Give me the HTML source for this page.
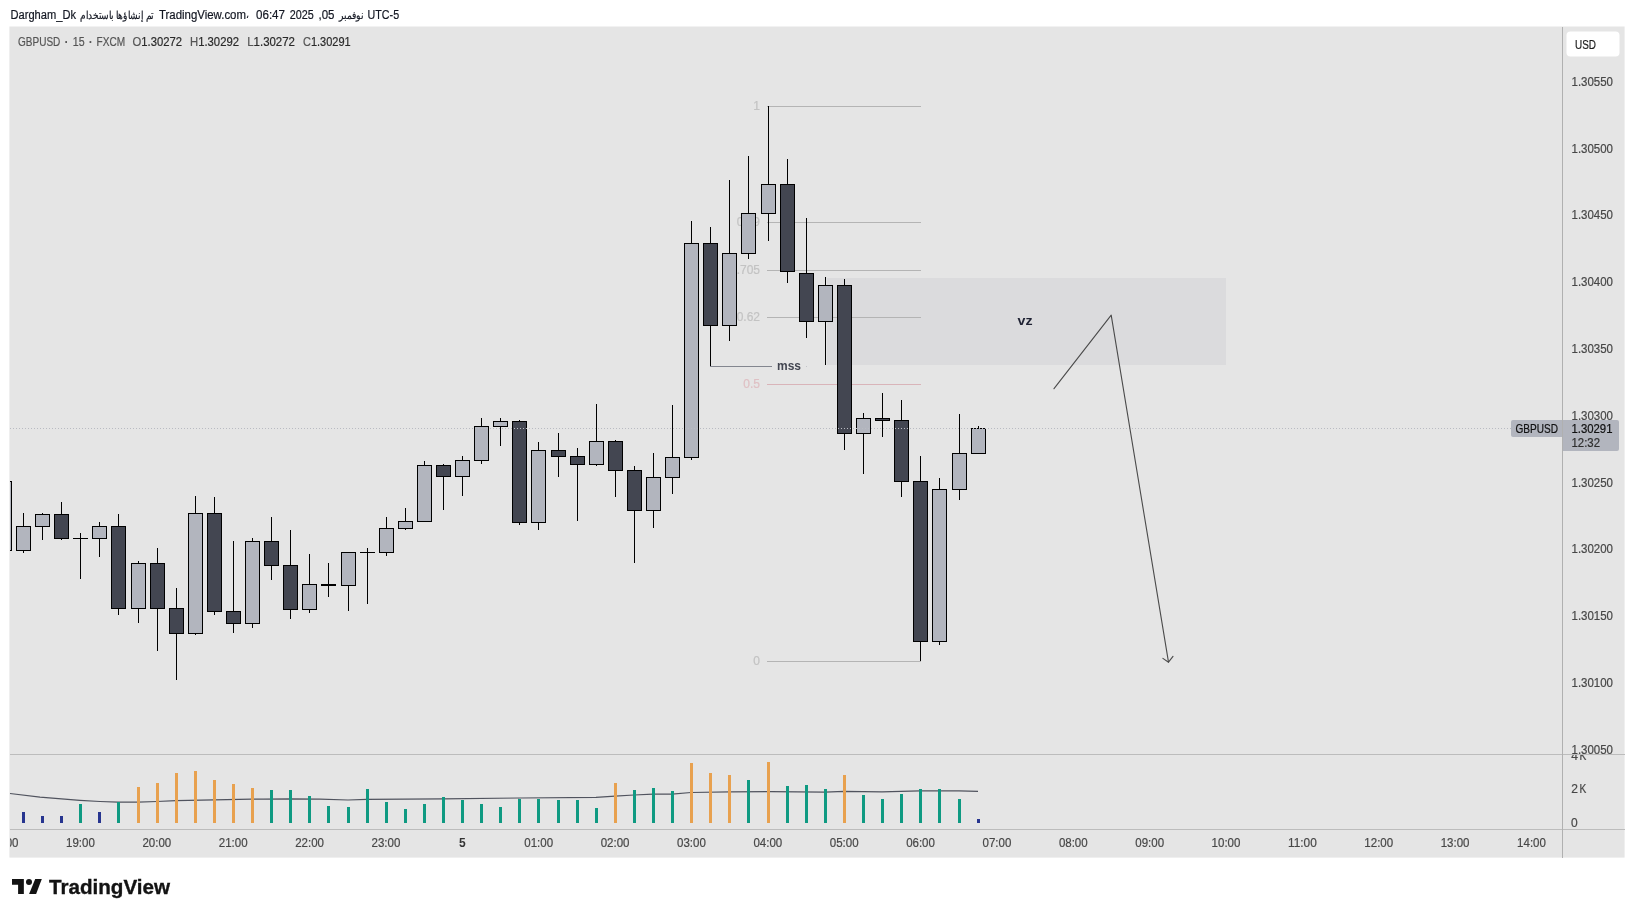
<!DOCTYPE html>
<html lang="en"><head><meta charset="utf-8"><title>GBPUSD chart</title>
<style>html,body{margin:0;padding:0;background:#fff;}body{width:1634px;height:917px;overflow:hidden;position:relative;font-family:"Liberation Sans",sans-serif;}svg{position:absolute;left:0;top:0;display:block;will-change:transform}svg text{font-family:"Liberation Sans",sans-serif;white-space:pre}</style>
</head><body>
<svg width="1634" height="917" viewBox="0 0 1634 917">
<defs><clipPath id="cp"><rect x="10" y="27" width="1552" height="727"/></clipPath><clipPath id="ct"><rect x="10" y="829" width="1552" height="28"/></clipPath><clipPath id="ca"><rect x="1563" y="27" width="61" height="727"/></clipPath><clipPath id="cv"><rect x="1563" y="755" width="61" height="74"/></clipPath></defs>
<g shape-rendering="crispEdges">
<rect x="9.4" y="26.5" width="1615.2" height="831.1" fill="#e5e5e5" shape-rendering="auto"/>
<rect x="827" y="278" width="399" height="87" fill="#dbdbdd" />
</g>
<g shape-rendering="crispEdges">
<rect x="767" y="106" width="154" height="1" fill="#b4b4b4" />
<rect x="767" y="222" width="154" height="1" fill="#b4b4b4" />
<rect x="767" y="270" width="154" height="1" fill="#b4b4b4" />
<rect x="767" y="317" width="154" height="1" fill="#b4b4b4" />
<rect x="767" y="384" width="154" height="1" fill="#d9b4b9" />
<rect x="767" y="661" width="154" height="1" fill="#b4b4b4" />
<rect x="710" y="366" width="62" height="1" fill="#83868f" />
<rect x="805.6" y="366" width="1.4" height="1" fill="#c4c5ca" />
</g>
<text x="760" y="109.7" font-size="12" fill="#c3c3c3" text-anchor="end" font-weight="normal" stroke="#c3c3c3" stroke-width="0.2" >1</text>
<text x="760" y="225.6" font-size="12" fill="#c3c3c3" text-anchor="end" font-weight="normal" stroke="#c3c3c3" stroke-width="0.2" >0.79</text>
<text x="760" y="273.6" font-size="12" fill="#c3c3c3" text-anchor="end" font-weight="normal" stroke="#c3c3c3" stroke-width="0.2" >0.705</text>
<text x="760" y="320.6" font-size="12" fill="#c3c3c3" text-anchor="end" font-weight="normal" stroke="#c3c3c3" stroke-width="0.2" >0.62</text>
<text x="760" y="387.6" font-size="12" fill="#dfc0c4" text-anchor="end" font-weight="normal" stroke="#dfc0c4" stroke-width="0.2" >0.5</text>
<text x="760" y="664.8" font-size="12" fill="#c3c3c3" text-anchor="end" font-weight="normal" stroke="#c3c3c3" stroke-width="0.2" >0</text>
<g clip-path="url(#cp)" shape-rendering="crispEdges">
<rect x="4" y="470" width="1" height="83" fill="#000000" />
<rect x="-3" y="481" width="15" height="70" fill="#000000" />
<rect x="-2" y="482" width="13" height="68" fill="#b2b5be" />
<rect x="23" y="513" width="1" height="40" fill="#000000" />
<rect x="16" y="526" width="15" height="25" fill="#000000" />
<rect x="17" y="527" width="13" height="23" fill="#b2b5be" />
<rect x="42" y="513" width="1" height="27" fill="#000000" />
<rect x="35" y="514" width="15" height="13" fill="#000000" />
<rect x="36" y="515" width="13" height="11" fill="#b2b5be" />
<rect x="61" y="502" width="1" height="38" fill="#000000" />
<rect x="54" y="514" width="15" height="25" fill="#000000" />
<rect x="55" y="515" width="13" height="23" fill="#434651" />
<rect x="80" y="533" width="1" height="46" fill="#000000" />
<rect x="73" y="538" width="15" height="1" fill="#000000" />
<rect x="99" y="522" width="1" height="35" fill="#000000" />
<rect x="92" y="526" width="15" height="13" fill="#000000" />
<rect x="93" y="527" width="13" height="11" fill="#b2b5be" />
<rect x="118" y="514" width="1" height="101" fill="#000000" />
<rect x="111" y="526" width="15" height="83" fill="#000000" />
<rect x="112" y="527" width="13" height="81" fill="#434651" />
<rect x="138" y="561" width="1" height="62" fill="#000000" />
<rect x="131" y="563" width="15" height="46" fill="#000000" />
<rect x="132" y="564" width="13" height="44" fill="#b2b5be" />
<rect x="157" y="548" width="1" height="103" fill="#000000" />
<rect x="150" y="563" width="15" height="46" fill="#000000" />
<rect x="151" y="564" width="13" height="44" fill="#434651" />
<rect x="176" y="588" width="1" height="92" fill="#000000" />
<rect x="169" y="608" width="15" height="26" fill="#000000" />
<rect x="170" y="609" width="13" height="24" fill="#434651" />
<rect x="195" y="496" width="1" height="139" fill="#000000" />
<rect x="188" y="513" width="15" height="121" fill="#000000" />
<rect x="189" y="514" width="13" height="119" fill="#b2b5be" />
<rect x="214" y="497" width="1" height="118" fill="#000000" />
<rect x="207" y="513" width="15" height="99" fill="#000000" />
<rect x="208" y="514" width="13" height="97" fill="#434651" />
<rect x="233" y="541" width="1" height="92" fill="#000000" />
<rect x="226" y="611" width="15" height="13" fill="#000000" />
<rect x="227" y="612" width="13" height="11" fill="#434651" />
<rect x="252" y="538" width="1" height="90" fill="#000000" />
<rect x="245" y="541" width="15" height="83" fill="#000000" />
<rect x="246" y="542" width="13" height="81" fill="#b2b5be" />
<rect x="271" y="517" width="1" height="63" fill="#000000" />
<rect x="264" y="541" width="15" height="25" fill="#000000" />
<rect x="265" y="542" width="13" height="23" fill="#434651" />
<rect x="290" y="530" width="1" height="89" fill="#000000" />
<rect x="283" y="565" width="15" height="45" fill="#000000" />
<rect x="284" y="566" width="13" height="43" fill="#434651" />
<rect x="309" y="554" width="1" height="59" fill="#000000" />
<rect x="302" y="584" width="15" height="26" fill="#000000" />
<rect x="303" y="585" width="13" height="24" fill="#b2b5be" />
<rect x="328" y="563" width="1" height="34" fill="#000000" />
<rect x="321" y="584" width="15" height="2" fill="#000000" />
<rect x="348" y="552" width="1" height="59" fill="#000000" />
<rect x="341" y="552" width="15" height="34" fill="#000000" />
<rect x="342" y="553" width="13" height="32" fill="#b2b5be" />
<rect x="367" y="548" width="1" height="56" fill="#000000" />
<rect x="360" y="552" width="15" height="1" fill="#000000" />
<rect x="386" y="517" width="1" height="39" fill="#000000" />
<rect x="379" y="528" width="15" height="25" fill="#000000" />
<rect x="380" y="529" width="13" height="23" fill="#b2b5be" />
<rect x="405" y="508" width="1" height="22" fill="#000000" />
<rect x="398" y="521" width="15" height="8" fill="#000000" />
<rect x="399" y="522" width="13" height="6" fill="#b2b5be" />
<rect x="424" y="461" width="1" height="61" fill="#000000" />
<rect x="417" y="465" width="15" height="57" fill="#000000" />
<rect x="418" y="466" width="13" height="55" fill="#b2b5be" />
<rect x="443" y="464" width="1" height="46" fill="#000000" />
<rect x="436" y="465" width="15" height="12" fill="#000000" />
<rect x="437" y="466" width="13" height="10" fill="#434651" />
<rect x="462" y="456" width="1" height="40" fill="#000000" />
<rect x="455" y="460" width="15" height="17" fill="#000000" />
<rect x="456" y="461" width="13" height="15" fill="#b2b5be" />
<rect x="481" y="418" width="1" height="46" fill="#000000" />
<rect x="474" y="426" width="15" height="35" fill="#000000" />
<rect x="475" y="427" width="13" height="33" fill="#b2b5be" />
<rect x="500" y="418" width="1" height="28" fill="#000000" />
<rect x="493" y="421" width="15" height="6" fill="#000000" />
<rect x="494" y="422" width="13" height="4" fill="#b2b5be" />
<rect x="519" y="420" width="1" height="105" fill="#000000" />
<rect x="512" y="421" width="15" height="102" fill="#000000" />
<rect x="513" y="422" width="13" height="100" fill="#434651" />
<rect x="538" y="442" width="1" height="88" fill="#000000" />
<rect x="531" y="450" width="15" height="73" fill="#000000" />
<rect x="532" y="451" width="13" height="71" fill="#b2b5be" />
<rect x="558" y="433" width="1" height="44" fill="#000000" />
<rect x="551" y="450" width="15" height="7" fill="#000000" />
<rect x="552" y="451" width="13" height="5" fill="#434651" />
<rect x="577" y="448" width="1" height="73" fill="#000000" />
<rect x="570" y="456" width="15" height="9" fill="#000000" />
<rect x="571" y="457" width="13" height="7" fill="#434651" />
<rect x="596" y="404" width="1" height="62" fill="#000000" />
<rect x="589" y="441" width="15" height="24" fill="#000000" />
<rect x="590" y="442" width="13" height="22" fill="#b2b5be" />
<rect x="615" y="440" width="1" height="57" fill="#000000" />
<rect x="608" y="441" width="15" height="30" fill="#000000" />
<rect x="609" y="442" width="13" height="28" fill="#434651" />
<rect x="634" y="466" width="1" height="97" fill="#000000" />
<rect x="627" y="470" width="15" height="41" fill="#000000" />
<rect x="628" y="471" width="13" height="39" fill="#434651" />
<rect x="653" y="453" width="1" height="75" fill="#000000" />
<rect x="646" y="477" width="15" height="34" fill="#000000" />
<rect x="647" y="478" width="13" height="32" fill="#b2b5be" />
<rect x="672" y="405" width="1" height="89" fill="#000000" />
<rect x="665" y="457" width="15" height="21" fill="#000000" />
<rect x="666" y="458" width="13" height="19" fill="#b2b5be" />
<rect x="691" y="221" width="1" height="239" fill="#000000" />
<rect x="684" y="243" width="15" height="215" fill="#000000" />
<rect x="685" y="244" width="13" height="213" fill="#b2b5be" />
<rect x="710" y="227" width="1" height="139" fill="#000000" />
<rect x="703" y="243" width="15" height="83" fill="#000000" />
<rect x="704" y="244" width="13" height="81" fill="#434651" />
<rect x="729" y="180" width="1" height="161" fill="#000000" />
<rect x="722" y="253" width="15" height="73" fill="#000000" />
<rect x="723" y="254" width="13" height="71" fill="#b2b5be" />
<rect x="748" y="156" width="1" height="103" fill="#000000" />
<rect x="741" y="213" width="15" height="41" fill="#000000" />
<rect x="742" y="214" width="13" height="39" fill="#b2b5be" />
<rect x="768" y="106" width="1" height="135" fill="#000000" />
<rect x="761" y="184" width="15" height="30" fill="#000000" />
<rect x="762" y="185" width="13" height="28" fill="#b2b5be" />
<rect x="787" y="159" width="1" height="124" fill="#000000" />
<rect x="780" y="184" width="15" height="88" fill="#000000" />
<rect x="781" y="185" width="13" height="86" fill="#434651" />
<rect x="806" y="218" width="1" height="120" fill="#000000" />
<rect x="799" y="273" width="15" height="49" fill="#000000" />
<rect x="800" y="274" width="13" height="47" fill="#434651" />
<rect x="825" y="277" width="1" height="88" fill="#000000" />
<rect x="818" y="285" width="15" height="37" fill="#000000" />
<rect x="819" y="286" width="13" height="35" fill="#b2b5be" />
<rect x="844" y="279" width="1" height="171" fill="#000000" />
<rect x="837" y="285" width="15" height="149" fill="#000000" />
<rect x="838" y="286" width="13" height="147" fill="#434651" />
<rect x="863" y="413" width="1" height="61" fill="#000000" />
<rect x="856" y="418" width="15" height="16" fill="#000000" />
<rect x="857" y="419" width="13" height="14" fill="#b2b5be" />
<rect x="882" y="393" width="1" height="44" fill="#000000" />
<rect x="875" y="418" width="15" height="3" fill="#000000" />
<rect x="876" y="419" width="13" height="1" fill="#434651" />
<rect x="901" y="400" width="1" height="97" fill="#000000" />
<rect x="894" y="420" width="15" height="62" fill="#000000" />
<rect x="895" y="421" width="13" height="60" fill="#434651" />
<rect x="920" y="456" width="1" height="205" fill="#000000" />
<rect x="913" y="481" width="15" height="161" fill="#000000" />
<rect x="914" y="482" width="13" height="159" fill="#434651" />
<rect x="939" y="478" width="1" height="167" fill="#000000" />
<rect x="932" y="489" width="15" height="153" fill="#000000" />
<rect x="933" y="490" width="13" height="151" fill="#b2b5be" />
<rect x="959" y="414" width="1" height="86" fill="#000000" />
<rect x="952" y="453" width="15" height="37" fill="#000000" />
<rect x="953" y="454" width="13" height="35" fill="#b2b5be" />
<rect x="978" y="426" width="1" height="28" fill="#000000" />
<rect x="971" y="428" width="15" height="26" fill="#000000" />
<rect x="972" y="429" width="13" height="24" fill="#b2b5be" />
</g>
<g shape-rendering="crispEdges">
<line x1="10" y1="428.5" x2="1512" y2="428.5" stroke="#b9bbc2" stroke-width="1" stroke-dasharray="1 2"/>
</g>
<text x="789" y="369.7" font-size="12" fill="#434651" text-anchor="middle" font-weight="bold" textLength="24" lengthAdjust="spacingAndGlyphs" >mss</text>
<text x="1025" y="325" font-size="13" fill="#1f2233" text-anchor="middle" font-weight="bold" textLength="15" lengthAdjust="spacingAndGlyphs" >vz</text>
<g fill="none" stroke="#4a4a4a" stroke-width="1.1" stroke-linecap="round" stroke-linejoin="round">
<path d="M1054 388.7 L1111.2 315.2 L1168.5 662.2"/>
<path d="M1162.9 658.4 L1168.5 662.2 L1173 656.4"/>
</g>
<g shape-rendering="crispEdges">
<rect x="10" y="754" width="1615" height="1" fill="#bcbcbc" />
<rect x="10" y="829" width="1615" height="1" fill="#bcbcbc" />
<rect x="1562" y="27" width="1" height="831" fill="#b0b0b0" />
</g>
<polyline points="10,793.5 40,797.1 80,800.3 100,801.5 118,802.2 138,802.2 157,801.5 176,800.7 214,799.8 252,799.2 290,798.8 320,799.2 348,800.0 367,799.3 443,798.9 520,798 596,797.4 615,796.2 634,795 653,794.1 672,794.1 691,792.5 730,791.9 768,791.6 825,792.1 844,791.4 882,791.9 920,790.8 959,790.8 978,791.4" fill="none" stroke="#50535e" stroke-width="1.2" stroke-linejoin="round"/>
<g shape-rendering="crispEdges">
<rect x="22" y="812" width="3" height="11" fill="#27358f" />
<rect x="41" y="816" width="3" height="7" fill="#27358f" />
<rect x="60" y="816" width="3" height="7" fill="#27358f" />
<rect x="79" y="804" width="3" height="19" fill="#0f9a82" />
<rect x="98" y="812" width="3" height="11" fill="#27358f" />
<rect x="117" y="802" width="3" height="21" fill="#0f9a82" />
<rect x="137" y="787" width="3" height="36" fill="#e8a14f" />
<rect x="156" y="783" width="3" height="40" fill="#e8a14f" />
<rect x="175" y="773" width="3" height="50" fill="#e8a14f" />
<rect x="194" y="771" width="3" height="52" fill="#e8a14f" />
<rect x="213" y="780" width="3" height="43" fill="#e8a14f" />
<rect x="232" y="784" width="3" height="39" fill="#e8a14f" />
<rect x="251" y="788" width="3" height="35" fill="#e8a14f" />
<rect x="270" y="790" width="3" height="33" fill="#0f9a82" />
<rect x="289" y="790" width="3" height="33" fill="#0f9a82" />
<rect x="308" y="796" width="3" height="27" fill="#0f9a82" />
<rect x="327" y="806" width="3" height="17" fill="#0f9a82" />
<rect x="347" y="807" width="3" height="16" fill="#0f9a82" />
<rect x="366" y="789" width="3" height="34" fill="#0f9a82" />
<rect x="385" y="802" width="3" height="21" fill="#0f9a82" />
<rect x="404" y="809" width="3" height="14" fill="#0f9a82" />
<rect x="423" y="804" width="3" height="19" fill="#0f9a82" />
<rect x="442" y="797" width="3" height="26" fill="#0f9a82" />
<rect x="461" y="800" width="3" height="23" fill="#0f9a82" />
<rect x="480" y="804" width="3" height="19" fill="#0f9a82" />
<rect x="499" y="807" width="3" height="16" fill="#0f9a82" />
<rect x="518" y="799" width="3" height="24" fill="#0f9a82" />
<rect x="537" y="799" width="3" height="24" fill="#0f9a82" />
<rect x="557" y="800" width="3" height="23" fill="#0f9a82" />
<rect x="576" y="800" width="3" height="23" fill="#0f9a82" />
<rect x="595" y="808" width="3" height="15" fill="#0f9a82" />
<rect x="614" y="783" width="3" height="40" fill="#e8a14f" />
<rect x="633" y="790" width="3" height="33" fill="#0f9a82" />
<rect x="652" y="788" width="3" height="35" fill="#0f9a82" />
<rect x="671" y="791" width="3" height="32" fill="#0f9a82" />
<rect x="690" y="763" width="3" height="60" fill="#e8a14f" />
<rect x="709" y="773" width="3" height="50" fill="#e8a14f" />
<rect x="728" y="775" width="3" height="48" fill="#e8a14f" />
<rect x="747" y="780" width="3" height="43" fill="#0f9a82" />
<rect x="767" y="762" width="3" height="61" fill="#e8a14f" />
<rect x="786" y="786" width="3" height="37" fill="#0f9a82" />
<rect x="805" y="785" width="3" height="38" fill="#0f9a82" />
<rect x="824" y="789" width="3" height="34" fill="#0f9a82" />
<rect x="843" y="775" width="3" height="48" fill="#e8a14f" />
<rect x="862" y="795" width="3" height="28" fill="#0f9a82" />
<rect x="881" y="799" width="3" height="24" fill="#0f9a82" />
<rect x="900" y="794" width="3" height="29" fill="#0f9a82" />
<rect x="919" y="789" width="3" height="34" fill="#0f9a82" />
<rect x="938" y="789" width="3" height="34" fill="#0f9a82" />
<rect x="958" y="799" width="3" height="24" fill="#0f9a82" />
<rect x="977" y="819" width="3" height="4" fill="#27358f" />
</g>
<g clip-path="url(#ca)">
<text x="1571.5" y="85.8" font-size="12" fill="#474747" text-anchor="start" font-weight="normal" textLength="41.5" lengthAdjust="spacingAndGlyphs" stroke="#474747" stroke-width="0.2" >1.30550</text>
<text x="1571.5" y="152.60000000000002" font-size="12" fill="#474747" text-anchor="start" font-weight="normal" textLength="41.5" lengthAdjust="spacingAndGlyphs" stroke="#474747" stroke-width="0.2" >1.30500</text>
<text x="1571.5" y="219.4" font-size="12" fill="#474747" text-anchor="start" font-weight="normal" textLength="41.5" lengthAdjust="spacingAndGlyphs" stroke="#474747" stroke-width="0.2" >1.30450</text>
<text x="1571.5" y="286.2" font-size="12" fill="#474747" text-anchor="start" font-weight="normal" textLength="41.5" lengthAdjust="spacingAndGlyphs" stroke="#474747" stroke-width="0.2" >1.30400</text>
<text x="1571.5" y="353.0" font-size="12" fill="#474747" text-anchor="start" font-weight="normal" textLength="41.5" lengthAdjust="spacingAndGlyphs" stroke="#474747" stroke-width="0.2" >1.30350</text>
<text x="1571.5" y="419.8" font-size="12" fill="#474747" text-anchor="start" font-weight="normal" textLength="41.5" lengthAdjust="spacingAndGlyphs" stroke="#474747" stroke-width="0.2" >1.30300</text>
<text x="1571.5" y="486.59999999999997" font-size="12" fill="#474747" text-anchor="start" font-weight="normal" textLength="41.5" lengthAdjust="spacingAndGlyphs" stroke="#474747" stroke-width="0.2" >1.30250</text>
<text x="1571.5" y="553.3999999999999" font-size="12" fill="#474747" text-anchor="start" font-weight="normal" textLength="41.5" lengthAdjust="spacingAndGlyphs" stroke="#474747" stroke-width="0.2" >1.30200</text>
<text x="1571.5" y="620.1999999999999" font-size="12" fill="#474747" text-anchor="start" font-weight="normal" textLength="41.5" lengthAdjust="spacingAndGlyphs" stroke="#474747" stroke-width="0.2" >1.30150</text>
<text x="1571.5" y="686.9999999999999" font-size="12" fill="#474747" text-anchor="start" font-weight="normal" textLength="41.5" lengthAdjust="spacingAndGlyphs" stroke="#474747" stroke-width="0.2" >1.30100</text>
<text x="1571.5" y="753.8" font-size="12" fill="#474747" text-anchor="start" font-weight="normal" textLength="41.5" lengthAdjust="spacingAndGlyphs" stroke="#474747" stroke-width="0.2" >1.30050</text>
</g>
<g clip-path="url(#cv)">
<text x="1571.3" y="760.3" font-size="12" fill="#474747" text-anchor="start" font-weight="normal" stroke="#474747" stroke-width="0.2" >4</text>
<text x="1579.6" y="760.3" font-size="12" fill="#474747" text-anchor="start" font-weight="normal" textLength="6.8" lengthAdjust="spacingAndGlyphs" stroke="#474747" stroke-width="0.2" >K</text>
<text x="1571.3" y="792.9" font-size="12" fill="#474747" text-anchor="start" font-weight="normal" stroke="#474747" stroke-width="0.2" >2</text>
<text x="1579.6" y="792.9" font-size="12" fill="#474747" text-anchor="start" font-weight="normal" textLength="6.8" lengthAdjust="spacingAndGlyphs" stroke="#474747" stroke-width="0.2" >K</text>
<text x="1571" y="827" font-size="12" fill="#474747" text-anchor="start" font-weight="normal" stroke="#474747" stroke-width="0.2" >0</text>
</g>
<rect x="1566.5" y="31.5" width="53" height="25" rx="4" ry="4" fill="#ffffff"/>
<text x="1575" y="48.8" font-size="12" fill="#1c1c1c" text-anchor="start" font-weight="normal" textLength="21" lengthAdjust="spacingAndGlyphs" stroke="#1c1c1c" stroke-width="0.2" >USD</text>
<path d="M1513 420 H1562 V437 H1513 a2 2 0 0 1 -2 -2 V422 a2 2 0 0 1 2 -2 z" fill="#b2b5be"/>
<path d="M1563 420 H1617 a2 2 0 0 1 2 2 V449 a2 2 0 0 1 -2 2 H1563 z" fill="#b2b5be"/>
<text x="1515.5" y="432.9" font-size="12" fill="#101010" text-anchor="start" font-weight="normal" textLength="42.5" lengthAdjust="spacingAndGlyphs" stroke="#101010" stroke-width="0.2" >GBPUSD</text>
<text x="1571.5" y="432.9" font-size="12" fill="#101010" text-anchor="start" font-weight="normal" textLength="41" lengthAdjust="spacingAndGlyphs" stroke="#101010" stroke-width="0.2" >1.30291</text>
<text x="1571.5" y="446.7" font-size="12" fill="#2e2e2e" text-anchor="start" font-weight="normal" textLength="28.5" lengthAdjust="spacingAndGlyphs" stroke="#2e2e2e" stroke-width="0.2" >12:32</text>
<g clip-path="url(#ct)">
<text x="-10.3" y="846.8" font-size="12" fill="#474747" text-anchor="start" font-weight="normal" textLength="28.8" lengthAdjust="spacingAndGlyphs" stroke="#474747" stroke-width="0.2" >18:00</text>
<text x="66.07" y="846.8" font-size="12" fill="#474747" text-anchor="start" font-weight="normal" textLength="28.8" lengthAdjust="spacingAndGlyphs" stroke="#474747" stroke-width="0.2" >19:00</text>
<text x="142.44" y="846.8" font-size="12" fill="#474747" text-anchor="start" font-weight="normal" textLength="28.8" lengthAdjust="spacingAndGlyphs" stroke="#474747" stroke-width="0.2" >20:00</text>
<text x="218.81" y="846.8" font-size="12" fill="#474747" text-anchor="start" font-weight="normal" textLength="28.8" lengthAdjust="spacingAndGlyphs" stroke="#474747" stroke-width="0.2" >21:00</text>
<text x="295.18000000000006" y="846.8" font-size="12" fill="#474747" text-anchor="start" font-weight="normal" textLength="28.8" lengthAdjust="spacingAndGlyphs" stroke="#474747" stroke-width="0.2" >22:00</text>
<text x="371.55000000000007" y="846.8" font-size="12" fill="#474747" text-anchor="start" font-weight="normal" textLength="28.8" lengthAdjust="spacingAndGlyphs" stroke="#474747" stroke-width="0.2" >23:00</text>
<text x="462.32000000000005" y="846.8" font-size="12" fill="#333333" text-anchor="middle" font-weight="bold" >5</text>
<text x="524.2900000000001" y="846.8" font-size="12" fill="#474747" text-anchor="start" font-weight="normal" textLength="28.8" lengthAdjust="spacingAndGlyphs" stroke="#474747" stroke-width="0.2" >01:00</text>
<text x="600.6600000000001" y="846.8" font-size="12" fill="#474747" text-anchor="start" font-weight="normal" textLength="28.8" lengthAdjust="spacingAndGlyphs" stroke="#474747" stroke-width="0.2" >02:00</text>
<text x="677.0300000000001" y="846.8" font-size="12" fill="#474747" text-anchor="start" font-weight="normal" textLength="28.8" lengthAdjust="spacingAndGlyphs" stroke="#474747" stroke-width="0.2" >03:00</text>
<text x="753.4000000000001" y="846.8" font-size="12" fill="#474747" text-anchor="start" font-weight="normal" textLength="28.8" lengthAdjust="spacingAndGlyphs" stroke="#474747" stroke-width="0.2" >04:00</text>
<text x="829.7700000000001" y="846.8" font-size="12" fill="#474747" text-anchor="start" font-weight="normal" textLength="28.8" lengthAdjust="spacingAndGlyphs" stroke="#474747" stroke-width="0.2" >05:00</text>
<text x="906.1400000000001" y="846.8" font-size="12" fill="#474747" text-anchor="start" font-weight="normal" textLength="28.8" lengthAdjust="spacingAndGlyphs" stroke="#474747" stroke-width="0.2" >06:00</text>
<text x="982.5100000000001" y="846.8" font-size="12" fill="#474747" text-anchor="start" font-weight="normal" textLength="28.8" lengthAdjust="spacingAndGlyphs" stroke="#474747" stroke-width="0.2" >07:00</text>
<text x="1058.8799999999999" y="846.8" font-size="12" fill="#474747" text-anchor="start" font-weight="normal" textLength="28.8" lengthAdjust="spacingAndGlyphs" stroke="#474747" stroke-width="0.2" >08:00</text>
<text x="1135.25" y="846.8" font-size="12" fill="#474747" text-anchor="start" font-weight="normal" textLength="28.8" lengthAdjust="spacingAndGlyphs" stroke="#474747" stroke-width="0.2" >09:00</text>
<text x="1211.62" y="846.8" font-size="12" fill="#474747" text-anchor="start" font-weight="normal" textLength="28.8" lengthAdjust="spacingAndGlyphs" stroke="#474747" stroke-width="0.2" >10:00</text>
<text x="1287.9899999999998" y="846.8" font-size="12" fill="#474747" text-anchor="start" font-weight="normal" textLength="28.8" lengthAdjust="spacingAndGlyphs" stroke="#474747" stroke-width="0.2" >11:00</text>
<text x="1364.36" y="846.8" font-size="12" fill="#474747" text-anchor="start" font-weight="normal" textLength="28.8" lengthAdjust="spacingAndGlyphs" stroke="#474747" stroke-width="0.2" >12:00</text>
<text x="1440.73" y="846.8" font-size="12" fill="#474747" text-anchor="start" font-weight="normal" textLength="28.8" lengthAdjust="spacingAndGlyphs" stroke="#474747" stroke-width="0.2" >13:00</text>
<text x="1517.1" y="846.8" font-size="12" fill="#474747" text-anchor="start" font-weight="normal" textLength="28.8" lengthAdjust="spacingAndGlyphs" stroke="#474747" stroke-width="0.2" >14:00</text>
</g>
<text x="18" y="46" font-size="12" fill="#555555" text-anchor="start" font-weight="normal" textLength="42.3" lengthAdjust="spacingAndGlyphs" stroke="#555555" stroke-width="0.2" >GBPUSD</text>
<text x="66.6" y="46" font-size="12" fill="#555555" text-anchor="middle" font-weight="bold" >·</text>
<text x="72.8" y="46" font-size="12" fill="#555555" text-anchor="start" font-weight="normal" textLength="11.8" lengthAdjust="spacingAndGlyphs" stroke="#555555" stroke-width="0.2" >15</text>
<text x="90.7" y="46" font-size="12" fill="#555555" text-anchor="middle" font-weight="bold" >·</text>
<text x="96.5" y="46" font-size="12" fill="#555555" text-anchor="start" font-weight="normal" textLength="28.6" lengthAdjust="spacingAndGlyphs" stroke="#555555" stroke-width="0.2" >FXCM</text>
<text x="132.5" y="46" font-size="12" stroke-width="0.2" textLength="49.5" lengthAdjust="spacingAndGlyphs"><tspan fill="#555555" stroke="#555555">O</tspan><tspan fill="#2a2a2a" stroke="#2a2a2a">1.30272</tspan></text>
<text x="190" y="46" font-size="12" stroke-width="0.2" textLength="49" lengthAdjust="spacingAndGlyphs"><tspan fill="#555555" stroke="#555555">H</tspan><tspan fill="#2a2a2a" stroke="#2a2a2a">1.30292</tspan></text>
<text x="247.2" y="46" font-size="12" stroke-width="0.2" textLength="47.80000000000001" lengthAdjust="spacingAndGlyphs"><tspan fill="#555555" stroke="#555555">L</tspan><tspan fill="#2a2a2a" stroke="#2a2a2a">1.30272</tspan></text>
<text x="303" y="46" font-size="12" stroke-width="0.2" textLength="47.69999999999999" lengthAdjust="spacingAndGlyphs"><tspan fill="#555555" stroke="#555555">C</tspan><tspan fill="#2a2a2a" stroke="#2a2a2a">1.30291</tspan></text>
<text x="10.5" y="18.8" font-size="12" fill="#131722" text-anchor="start" font-weight="normal" textLength="65.5" lengthAdjust="spacingAndGlyphs" stroke="#131722" stroke-width="0.2" >Dargham_Dk</text>
<text x="79.8" y="18.8" font-size="10.5" fill="#131722" text-anchor="start" font-weight="normal" textLength="74" lengthAdjust="spacingAndGlyphs" stroke="#131722" stroke-width="0.2" >تم إنشاؤها باستخدام</text>
<text x="159" y="18.8" font-size="12" fill="#131722" text-anchor="start" font-weight="normal" textLength="87" lengthAdjust="spacingAndGlyphs" stroke="#131722" stroke-width="0.2" >TradingView.com</text>
<text x="246.3" y="17.6" font-size="9" fill="#131722" text-anchor="start" font-weight="normal" stroke="#131722" stroke-width="0.2" >،</text>
<text x="256" y="18.8" font-size="12" fill="#131722" text-anchor="start" font-weight="normal" textLength="29" lengthAdjust="spacingAndGlyphs" stroke="#131722" stroke-width="0.2" >06:47</text>
<text x="289.8" y="18.8" font-size="12" fill="#131722" text-anchor="start" font-weight="normal" textLength="24" lengthAdjust="spacingAndGlyphs" stroke="#131722" stroke-width="0.2" >2025</text>
<text x="318.5" y="18.8" font-size="12" fill="#131722" text-anchor="start" font-weight="normal" textLength="16" lengthAdjust="spacingAndGlyphs" stroke="#131722" stroke-width="0.2" >,05</text>
<text x="339.3" y="18.8" font-size="10.5" fill="#131722" text-anchor="start" font-weight="normal" textLength="24" lengthAdjust="spacingAndGlyphs" stroke="#131722" stroke-width="0.2" >نوفمبر</text>
<text x="367.6" y="18.8" font-size="12" fill="#131722" text-anchor="start" font-weight="normal" textLength="31.5" lengthAdjust="spacingAndGlyphs" stroke="#131722" stroke-width="0.2" >UTC-5</text>
<g fill="#131313">
<path d="M12 879 H23.85 V893.9 H18.1 V884.8 H12 z"/>
<circle cx="29.0" cy="881.95" r="3.0"/>
<path d="M35.2 879 H41.8 L36.1 893.9 H29.1 z"/>
</g>
<text x="49.0" y="893.9" font-size="20.6" fill="#131313" text-anchor="start" font-weight="bold" textLength="121" lengthAdjust="spacingAndGlyphs" stroke="#131313" stroke-width="0.35" >TradingView</text>
</svg>
</body></html>
